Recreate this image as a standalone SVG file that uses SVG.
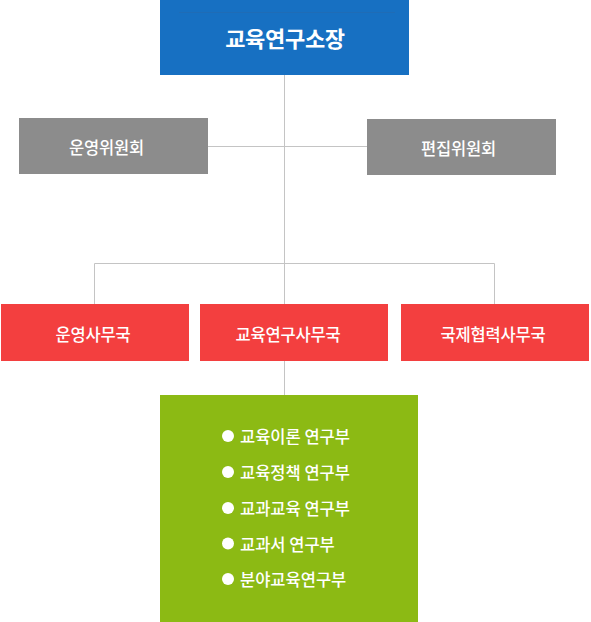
<svg xmlns="http://www.w3.org/2000/svg" width="591" height="622" viewBox="0 0 591 622">
<style>
text{font-family:"Noto Sans CJK KR","Noto Sans",sans-serif;fill:#fff;text-anchor:middle;dominant-baseline:central;font-weight:500}
.line{stroke:#c4c4c4;stroke-width:1;fill:none}
.grey{fill:#8c8c8c}
.red{fill:#f33f3f}
.t16{font-size:16.5px;letter-spacing:-0.2px}
.li{font-size:16.5px;text-anchor:start}
</style>
<rect width="591" height="622" fill="#fff"/>
<g id="connectors">
<path class="line" d="M284.5 75V395M207 146.5H367M94.5 304V263.5H494.5V304"/>
</g>
<g id="director">
<rect x="160" y="0" width="249" height="75" fill="#1770c2"/>
<line x1="179" y1="12.5" x2="395" y2="12.5" stroke="#1f6cb6" stroke-width="1"/>
<text x="285" y="37" font-size="22" style="font-weight:bold;letter-spacing:-0.3px">교육연구소장</text>
</g>
<g id="operating-committee">
<rect class="grey" x="19" y="118" width="189" height="56"/>
<text class="t16" x="106.5" y="147">운영위원회</text>
</g>
<g id="editorial-committee">
<rect class="grey" x="367" y="119" width="189" height="56"/>
<text class="t16" x="458.5" y="148">편집위원회</text>
</g>
<g id="operating-office">
<rect class="red" x="1" y="304" width="188" height="57"/>
<text class="t16" x="93" y="333.5">운영사무국</text>
</g>
<g id="research-office">
<rect class="red" x="200" y="304" width="188" height="57"/>
<text class="t16" x="288" y="333.5">교육연구사무국</text>
</g>
<g id="intl-office">
<rect class="red" x="401" y="304" width="188" height="57"/>
<text class="t16" x="493" y="333.5">국제협력사무국</text>
</g>
<g id="research-divisions">
<rect x="160" y="395" width="258" height="227" fill="#8cba14"/>
<g fill="#fff">
<circle cx="228" cy="436" r="6"/>
<circle cx="228" cy="472" r="6"/>
<circle cx="228" cy="508" r="6"/>
<circle cx="228" cy="543.5" r="6"/>
<circle cx="228" cy="579" r="6"/>
</g>
<text class="li" x="240" y="436">교육이론 연구부</text>
<text class="li" x="240" y="472">교육정책 연구부</text>
<text class="li" x="240" y="508">교과교육 연구부</text>
<text class="li" x="240" y="543.5">교과서 연구부</text>
<text class="li" x="240" y="579">분야교육연구부</text>
</g>
</svg>
